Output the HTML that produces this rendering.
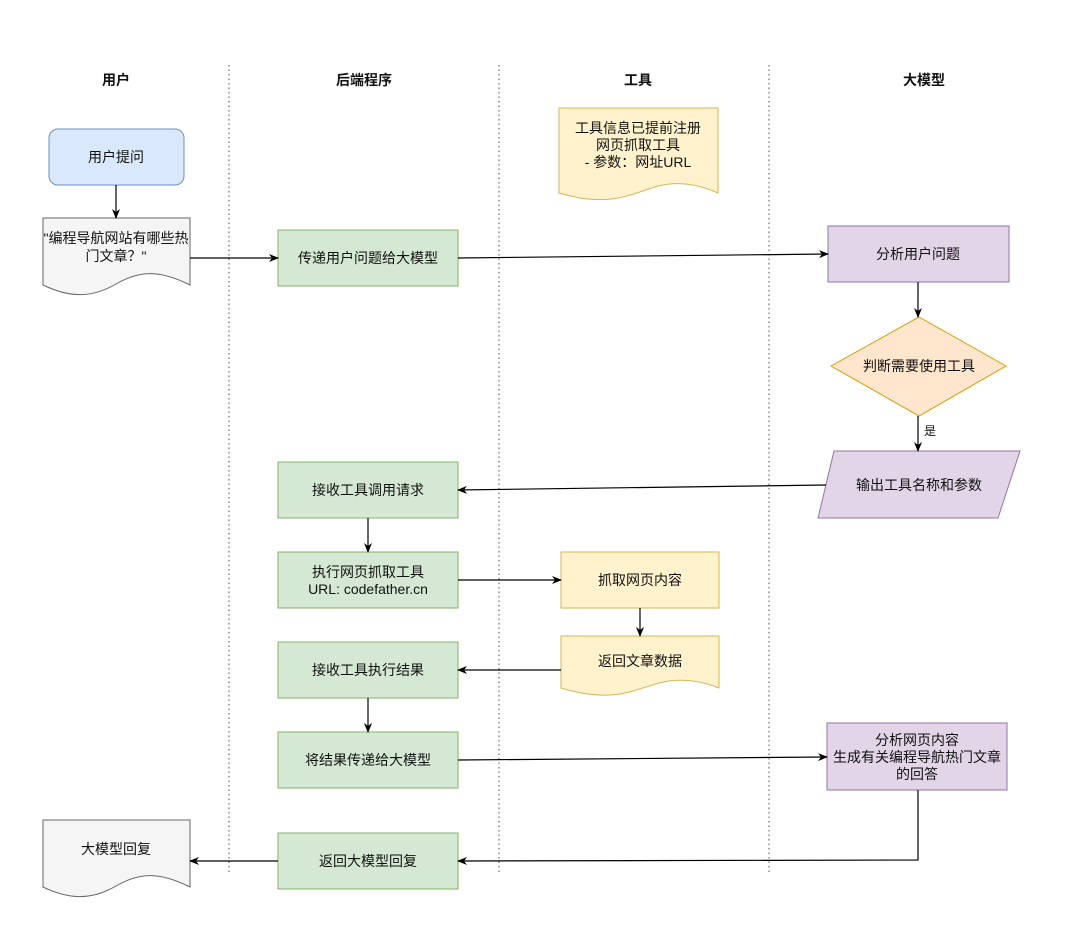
<!DOCTYPE html>
<html><head><meta charset="utf-8"><style>
body{margin:0;background:#fff}
svg text{font-family:"Liberation Sans","Noto Sans CJK SC",sans-serif;font-size:14px;fill:#111;text-anchor:middle;dominant-baseline:central}
.h{font-weight:bold;font-size:14px}
</style></head><body>
<svg width="1080" height="924" viewBox="0 0 1080 924" xmlns="http://www.w3.org/2000/svg">
<defs><marker id="a" markerWidth="10" markerHeight="10" refX="9" refY="5" orient="auto" markerUnits="userSpaceOnUse"><path d="M0,1 L10,5 L0,9 L3,5 z" fill="#000"/></marker></defs>
<g stroke="#555" stroke-dasharray="1.5,3" stroke-width="1">
<line x1="229" y1="65" x2="229" y2="872"/><line x1="499" y1="65" x2="499" y2="872"/><line x1="769" y1="65" x2="769" y2="872"/></g>
<text x="116" y="80" class="h">用户</text><text x="364" y="80" class="h">后端程序</text><text x="638" y="80" class="h">工具</text><text x="924" y="80" class="h">大模型</text>
<rect x="49" y="129" width="135" height="56" rx="9" fill="#dae8fc" stroke="#6c8ebf"/><text x="116" y="157">用户提问</text>
<path d="M43,218 H190 V285 C160,270 140,270 116,284 C92,298 70,298 43,285 Z" fill="#f5f5f5" stroke="#666"/>
<text x="116" y="238">"编程导航网站有哪些热</text><text x="116" y="256">门文章？"</text>
<path d="M43,820 H190 V887 C160,872 140,872 116,886 C92,900 70,900 43,887 Z" fill="#f5f5f5" stroke="#666"/>
<text x="116" y="849">大模型回复</text>
<g fill="#d5e8d4" stroke="#82b366">
<rect x="278" y="230" width="180" height="56"/><rect x="278" y="462" width="180" height="56"/><rect x="278" y="552" width="180" height="56"/><rect x="278" y="642" width="180" height="56"/><rect x="278" y="732" width="180" height="56"/><rect x="278" y="833" width="180" height="56"/></g>
<text x="368" y="258">传递用户问题给大模型</text><text x="368" y="490">接收工具调用请求</text>
<text x="368" y="572">执行网页抓取工具</text><text x="368" y="589">URL: codefather.cn</text>
<text x="368" y="670">接收工具执行结果</text><text x="368" y="760">将结果传递给大模型</text><text x="368" y="861">返回大模型回复</text>
<path d="M559,108 H718 V193 C698,184 678,181 658,186 C630,194 610,208 559,193 Z" fill="#fff2cc" stroke="#d6b656"/>
<text x="638" y="128">工具信息已提前注册</text><text x="638" y="145">网页抓取工具</text><text x="638" y="162">- 参数：网址URL</text>
<rect x="561" y="552" width="158" height="56" fill="#fff2cc" stroke="#d6b656"/><text x="640" y="580">抓取网页内容</text>
<path d="M561,636 H719 V688 C699,680 679,678 659,683 C631,691 611,703 561,688 Z" fill="#fff2cc" stroke="#d6b656"/><text x="640" y="661">返回文章数据</text>
<rect x="828" y="226" width="181" height="56" fill="#e1d5e7" stroke="#9673a6"/><text x="918" y="254">分析用户问题</text>
<path d="M919,317 L1006,366 L919,416 L831,366 Z" fill="#ffe6cc" stroke="#d79b00"/><text x="919" y="366">判断需要使用工具</text>
<text x="930" y="431" style="font-size:12px">是</text>
<path d="M834,451 H1020 L998,518 H818 Z" fill="#e1d5e7" stroke="#9673a6"/><text x="919" y="485">输出工具名称和参数</text>
<rect x="827" y="723" width="180" height="67" fill="#e1d5e7" stroke="#9673a6"/>
<text x="917" y="740">分析网页内容</text><text x="917" y="757">生成有关编程导航热门文章</text><text x="917" y="774">的回答</text>
<g stroke="#000" stroke-width="1.2" fill="none" marker-end="url(#a)">
<line x1="116" y1="185" x2="116" y2="218"/>
<line x1="190" y1="258" x2="278" y2="258"/>
<line x1="458" y1="258" x2="828" y2="254"/>
<line x1="918" y1="282" x2="918" y2="317"/>
<line x1="918" y1="416" x2="918" y2="451"/>
<line x1="826" y1="485" x2="458" y2="490"/>
<line x1="368" y1="518" x2="368" y2="552"/>
<line x1="458" y1="580" x2="561" y2="580"/>
<line x1="640" y1="608" x2="640" y2="636"/>
<line x1="561" y1="670" x2="458" y2="670"/>
<line x1="368" y1="698" x2="368" y2="732"/>
<line x1="458" y1="760" x2="827" y2="757"/>
<polyline points="918,790 918,860 458,861"/>
<line x1="278" y1="861" x2="190" y2="861"/>
</g>
</svg>
</body></html>
